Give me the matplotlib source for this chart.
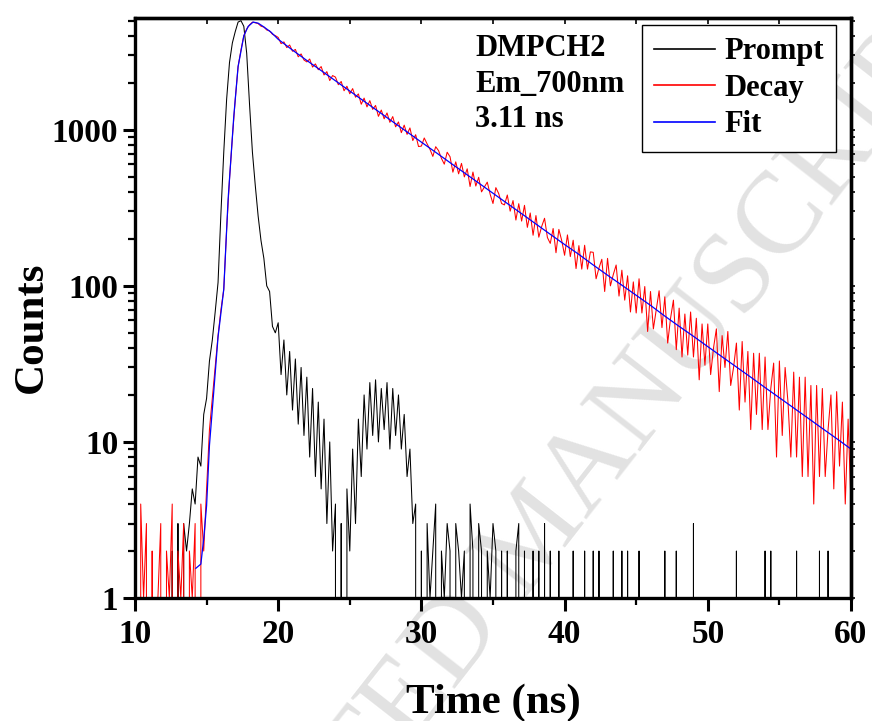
import numpy as np
import matplotlib
matplotlib.use('Agg')
import matplotlib.pyplot as plt
from matplotlib.ticker import MultipleLocator, FixedLocator, LogLocator, NullFormatter

# TCSPC histogram, one value per 0.2 ns channel starting at 10 ns (rows of 2 ns)
channel_start_ns = 10.0
channel_width_ns = 0.2

prompt_counts = [
    0, 0, 1, 0, 0, 0, 1, 0, 0, 0,                          # 10-12
    0, 1, 0, 2, 0, 3, 0, 3, 2, 3,                          # 12-14
    5, 4, 8, 7, 15, 19, 33, 45, 68, 105,                   # 14-16
    290, 720, 1570, 2700, 3600, 4250, 4900, 5000, 4600, 3100,  # 16-18
    1450, 720, 440, 280, 195, 150, 100, 92, 55, 50,        # 18-20
    58, 27, 45, 20, 38, 16, 34, 13, 30, 11,                # 20-22
    26, 8, 22, 6, 18, 5, 14, 3, 10, 2,                     # 22-24
    4, 0, 3, 0, 5, 2, 9, 3, 14, 6,                         # 24-26
    20, 9, 24, 11, 25, 10, 22, 12, 24, 9,                  # 26-28
    22, 11, 20, 9, 15, 6, 9, 3, 4, 0,                      # 28-30
    2, 0, 3, 1, 2, 4, 0, 2, 1, 3,                          # 30-32
    2, 0, 3, 2, 1, 2, 0, 4, 2, 0,                          # 32-34
    3, 2, 0, 2, 1, 3, 2, 0, 2, 0,                          # 34-36
    2, 0, 0, 2, 3, 0, 2, 0, 0, 2,                          # 36-38
    0, 2, 0, 3, 0, 2, 0, 0, 2, 0,                          # 38-40
    0, 0, 0, 2, 0, 0, 0, 2, 0, 0,                          # 40-42
    2, 0, 2, 0, 0, 0, 0, 2, 0, 0,                          # 42-44
    2, 0, 2, 0, 0, 0, 2, 0, 0, 0,                          # 44-46
    0, 0, 0, 0, 0, 2, 0, 0, 0, 2,                          # 46-48
    0, 0, 0, 0, 0, 3, 0, 0, 0, 0,                          # 48-50
    0, 0, 0, 0, 0, 0, 0, 0, 0, 0,                          # 50-52
    2, 0, 0, 0, 0, 0, 0, 0, 0, 0,                          # 52-54
    2, 0, 2, 0, 0, 0, 0, 0, 0, 0,                          # 54-56
    0, 2, 0, 0, 0, 0, 0, 0, 0, 2,                          # 56-58
    0, 0, 2, 0, 0, 0, 0, 0, 0, 0,                          # 58-60
    0,
]

decay_counts = [
    2, 0, 4, 1, 3, 0, 2, 0, 1, 3,                          # 10-12
    0, 2, 1, 4, 0, 2, 1, 3, 0, 2,                          # 12-14
    1, 3, 0, 4, 2, 5, 12, 19, 30, 48,                      # 14-16
    70, 95, 230, 480, 890, 1560, 2540, 3240, 4000, 4420,   # 16-18
    4700, 4890, 4850, 4790, 4610, 4550, 4360, 4300, 4090, 4010,  # 18-20
    3906, 3564, 3656, 3362, 3494, 3185, 3272, 2935, 3062, 2800,  # 20-22
    2722, 2840, 2522, 2642, 2425, 2541, 2245, 2357, 2067, 2225,  # 22-24
    2175, 1944, 2039, 1778, 1901, 1701, 1836, 1617, 1697, 1457,  # 24-26
    1596, 1401, 1537, 1351, 1432, 1219, 1338, 1175, 1282, 1116,  # 26-28
    1215, 1044, 1123, 958, 1071, 934, 1028, 853, 930, 781,       # 28-30
    786, 886, 812, 749, 675, 779, 735, 656, 602, 718,      # 30-32
    672, 535, 623, 522, 609, 499, 562, 433, 536, 436,      # 32-34
    496, 400, 430, 462, 387, 337, 426, 390, 337, 330,      # 34-36
    382, 301, 352, 264, 336, 260, 328, 237, 293, 211,      # 36-38
    282, 205, 240, 271, 204, 187, 233, 163, 230, 195,      # 38-40
    157, 212, 154, 196, 129, 181, 128, 182, 128, 165,      # 40-42
    164, 111, 130, 148, 92, 150, 100, 118, 136, 86,        # 42-44
    126, 81, 116, 68, 106, 67, 111, 67, 99, 51,            # 44-46
    92, 53, 70, 93, 54, 85, 43, 62, 81, 39,                # 46-48
    72, 35, 66, 36, 68, 35, 62, 25, 57, 31,                # 48-50
    57, 27, 40, 53, 21, 48, 30, 51, 23, 30,                # 50-52
    43, 16, 44, 18, 38, 12, 37, 15, 37, 12,                # 52-54
    35, 12, 22, 32, 8, 33, 11, 30, 18, 8,                  # 54-56
    28, 8, 26, 6, 26, 6, 23, 4, 23, 6,                     # 56-58
    22, 6, 12, 20, 5, 21, 7, 18, 4, 14,                    # 58-60
    4,
]

fit_time = [14.25, 14.6, 14.8, 15.0, 15.2, 15.5, 15.8, 16.2, 16.5, 16.9,
            17.2, 17.6, 17.9, 18.25, 18.6, 19.0, 19.5,
            20, 21, 22, 23, 24, 25, 26, 27, 28, 29,
            30, 31, 32, 33, 34, 35, 36, 37, 38, 39,
            40, 41, 42, 43, 44, 45, 46, 47, 48, 49,
            50, 51, 52, 53, 54, 55, 56, 57, 58, 59, 60]
fit_counts = [1.55, 1.65, 2.4, 3.9, 9.5, 21, 47, 95, 355, 1220,
              2540, 4000, 4590, 4900, 4820, 4560, 4220,
              3800, 3240, 2780, 2395, 2060, 1770, 1523, 1310, 1126, 969,
              833, 717, 616, 530, 456, 392, 337, 290, 249, 214,
              184, 159, 136, 117, 101, 87, 75, 64, 55, 47.5,
              40.8, 35.1, 30.2, 26.0, 22.3, 19.2, 16.5, 14.2, 12.2, 10.5, 9.0]

y_ticks = [1, 10, 100, 1000]
y_tick_labels = ['1', '10', '100', '1000']
x_ticks = [10, 20, 30, 40, 50, 60]
info_lines = ['DMPCH2', 'Em_700nm', '3.11 ns']

time_ns = channel_start_ns + channel_width_ns * np.arange(len(decay_counts))

plt.rcParams['font.family'] = ['Liberation Serif', 'DejaVu Serif']
plt.rcParams['font.weight'] = 'bold'

fig = plt.figure(figsize=(8.72, 7.21), dpi=100)
fig.patch.set_facecolor('white')

# faint watermark behind the plot
fig.text(0.617, 0.255, 'ACCEPTED MANUSCRIPT', rotation=52, rotation_mode='anchor',
         fontsize=84, color='#e2e2e2', fontweight='normal',
         ha='center', va='center', zorder=-1)

ax = fig.add_axes([0.1548, 0.1706, 0.8211, 0.8044])
ax.patch.set_visible(False)

ax.plot(time_ns, prompt_counts, color='black', lw=0.75, label='Prompt')
ax.plot(time_ns, decay_counts, color='red', lw=0.75, label='Decay')
ax.plot(fit_time, fit_counts, color='blue', lw=0.9, label='Fit')

ax.set_yscale('log')
ax.set_xlim(10, 60)
ax.set_ylim(1, 5200)

ax.xaxis.set_major_locator(FixedLocator(x_ticks))
ax.xaxis.set_minor_locator(MultipleLocator(5))
ax.yaxis.set_major_locator(FixedLocator(y_ticks))
ax.set_yticklabels(y_tick_labels)
ax.yaxis.set_minor_locator(LogLocator(base=10, subs=np.arange(2, 10)))
ax.yaxis.set_minor_formatter(NullFormatter())

for s in ax.spines.values():
    s.set_linewidth(2.4)

ax.tick_params(which='major', direction='out', length=9, width=2.2, labelsize=24)
ax.tick_params(axis='x', which='major', pad=6)
ax.tick_params(axis='y', which='major', pad=3)
ax.tick_params(which='minor', direction='out', length=5, width=1.6)

top = ax.secondary_xaxis('top')
top.xaxis.set_major_locator(MultipleLocator(5))
top.tick_params(direction='in', length=4, width=1.2, labeltop=False)
top.spines['top'].set_linewidth(2.4)
right = ax.secondary_yaxis('right')
right.yaxis.set_major_locator(FixedLocator(y_ticks))
right.yaxis.set_minor_locator(LogLocator(base=10, subs=np.arange(2, 10)))
right.tick_params(which='both', direction='out', length=3, width=1.2, labelright=False)
right.spines['right'].set_linewidth(2.4)

ax.set_xlabel('Time (ns)', fontsize=31, fontweight='bold')
ax.set_ylabel('Counts', fontsize=31, fontweight='bold')
ax.xaxis.set_label_coords(0.5, -0.147)
ax.yaxis.set_label_coords(-0.117, 0.466)

ax.text(0.475, 0.972, '\n'.join(info_lines), transform=ax.transAxes,
        fontsize=22, fontweight='bold', ha='left', va='top', linespacing=1.3)

leg = ax.legend(loc='upper right', bbox_to_anchor=(0.979, 0.988), borderaxespad=0,
                prop={'size': 22, 'weight': 'bold'}, frameon=True, fancybox=False,
                edgecolor='black', framealpha=1, handlelength=2.0, handletextpad=0.3,
                labelspacing=0.25, borderpad=0.4)
leg.get_frame().set_linewidth(1.0)
for line in leg.get_lines():
    line.set_linewidth(1.2)

fig.savefig('out.png', dpi=100)
